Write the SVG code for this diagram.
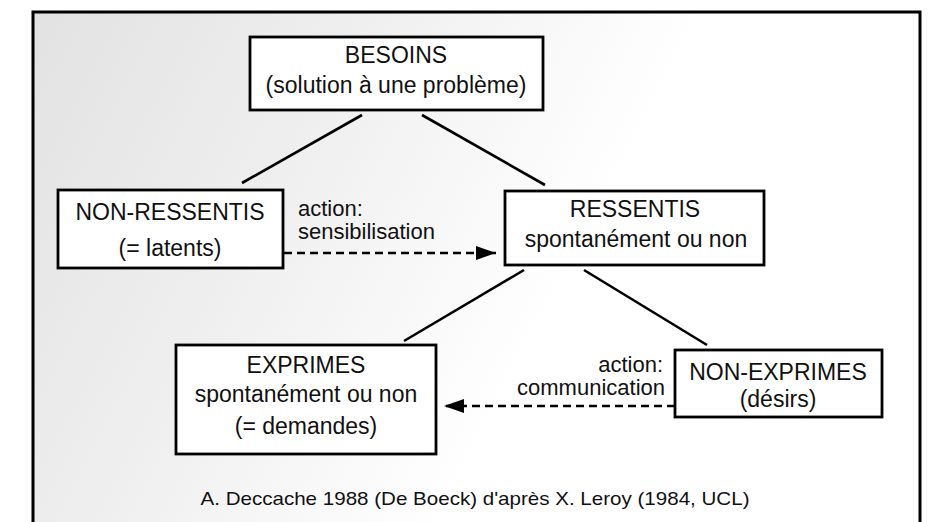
<svg xmlns="http://www.w3.org/2000/svg" width="933" height="522" viewBox="0 0 933 522">
<style>
.box{fill:#fff;stroke:#000;stroke-width:2.8}
.t{font-family:"Liberation Sans",Arial,sans-serif;font-size:23px;fill:#111;text-anchor:middle}
.l{font-family:"Liberation Sans",Arial,sans-serif;font-size:22px;fill:#111}
.c{stroke:#000;stroke-width:2.6;fill:none}
.d{stroke:#000;stroke-width:2.6;fill:none;stroke-dasharray:8 5}
</style>
<defs>
<linearGradient id="bg" x1="0" y1="0" x2="1" y2="0.3">
<stop offset="0" stop-color="#e2e2e2"/>
<stop offset="0.35" stop-color="#efefef"/>
<stop offset="0.7" stop-color="#ffffff"/>
</linearGradient>
<marker id="ah" markerUnits="userSpaceOnUse" markerWidth="22" markerHeight="16" refX="20" refY="7" orient="auto">
<path d="M0,0 L20,7 L0,14 z" fill="#000"/>
</marker>
</defs>
<rect width="933" height="522" fill="#fff"/>
<rect x="32" y="12" width="888" height="510" fill="url(#bg)"/>
<g id="frame">
<path d="M33,522 L33,12 L920,12 L920,522" fill="none" stroke="#000" stroke-width="3"/>
</g>
<g id="connectors">
<line class="c" x1="362" y1="115" x2="242" y2="183"/>
<line class="c" x1="422" y1="115" x2="545" y2="185"/>
<line class="c" x1="524" y1="270" x2="404" y2="341"/>
<line class="c" x1="584" y1="270" x2="707" y2="345"/>
<line class="d" x1="284" y1="253" x2="496" y2="253" marker-end="url(#ah)"/>
<line class="d" x1="675" y1="406" x2="444" y2="406" marker-end="url(#ah)"/>
<text class="l" x="298" y="216">action:</text>
<text class="l" x="298" y="239">sensibilisation</text>
<text class="l" x="663" y="372" text-anchor="end">action:</text>
<text class="l" x="665" y="395" text-anchor="end">communication</text>
</g>
<g id="besoins">
<rect class="box" x="250" y="37" width="293" height="73"/>
<text class="t" x="396" y="63">BESOINS</text>
<text class="t" x="396" y="93">(solution à une problème)</text>
</g>
<g id="non-ressentis">
<rect class="box" x="58" y="190" width="225" height="78"/>
<text class="t" x="170" y="220">NON-RESSENTIS</text>
<text class="t" x="170" y="256">(= latents)</text>
</g>
<g id="ressentis">
<rect class="box" x="505" y="191" width="259" height="74"/>
<text class="t" x="635" y="217">RESSENTIS</text>
<text class="t" x="636" y="247">spontanément ou non</text>
</g>
<g id="exprimes">
<rect class="box" x="176" y="345" width="260" height="109"/>
<text class="t" x="306" y="373">EXPRIMES</text>
<text class="t" x="306" y="402">spontanément ou non</text>
<text class="t" x="306" y="434">(= demandes)</text>
</g>
<g id="non-exprimes">
<rect class="box" x="675" y="350" width="207" height="67"/>
<text class="t" x="778" y="380">NON-EXPRIMES</text>
<text class="t" x="778" y="407">(désirs)</text>
</g>
<g id="source">
<text class="t" x="475" y="505" style="font-size:19px" textLength="549" lengthAdjust="spacingAndGlyphs">A. Deccache 1988 (De Boeck) d'après X. Leroy (1984, UCL)</text>
</g>
</svg>
